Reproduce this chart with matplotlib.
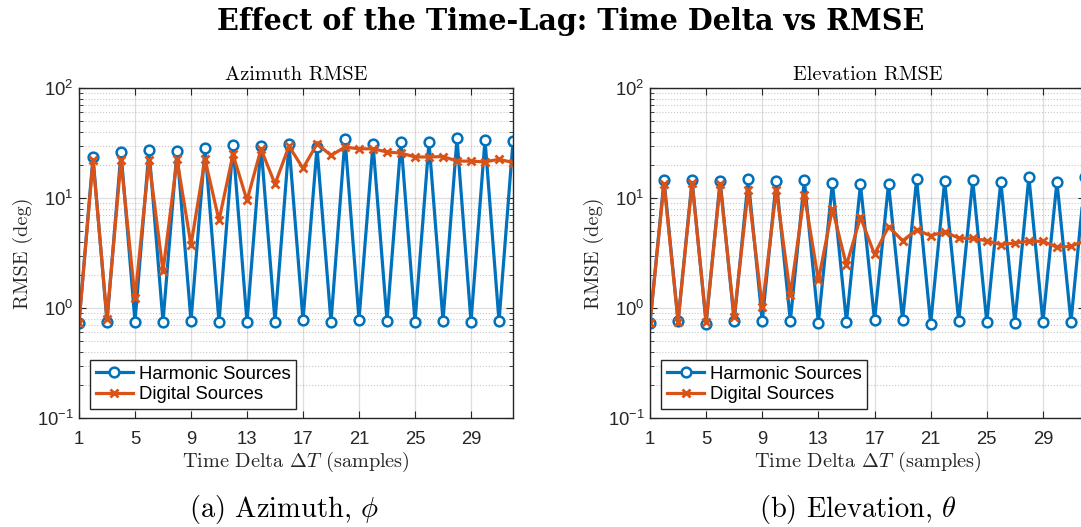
import matplotlib
matplotlib.use("Agg")
import matplotlib.pyplot as plt
from matplotlib.ticker import NullLocator, NullFormatter, LogLocator

plt.rcParams['font.family'] = ['Liberation Sans', 'DejaVu Sans']
plt.rcParams['mathtext.fontset'] = 'cm'

# time delta (samples)
delta_t = list(range(1, 33))

# azimuth RMSE (deg)
az_harmonic = [0.73, 23.5, 0.75, 26.0, 0.75, 27.5, 0.75, 27.0, 0.76, 28.4, 0.745, 30.3,
               0.745, 30.0, 0.75, 30.8, 0.775, 28.8, 0.745, 34.5, 0.785, 31.0, 0.765, 32.6,
               0.745, 32.2, 0.765, 34.9, 0.745, 33.8, 0.755, 32.8]
az_digital = [0.73, 22.0, 0.80, 22.0, 1.23, 22.0, 2.16, 22.5, 3.74, 22.5, 6.27, 24.9,
              9.5, 27.9, 13.4, 29.6, 18.6, 31.1, 24.4, 29.0, 28.0, 28.0, 26.2, 25.6,
              23.6, 23.6, 23.8, 21.7, 21.6, 21.3, 22.5, 21.0]

# elevation RMSE (deg)
el_harmonic = [0.73, 14.5, 0.76, 14.5, 0.72, 14.4, 0.76, 14.8, 0.76, 14.4, 0.76, 14.5,
               0.735, 13.8, 0.745, 13.3, 0.775, 13.4, 0.775, 14.8, 0.72, 14.3, 0.76, 14.5,
               0.745, 14.1, 0.735, 15.6, 0.745, 14.1, 0.745, 15.4]
el_digital = [0.73, 13.5, 0.75, 13.8, 0.75, 13.3, 0.83, 11.9, 1.02, 11.9, 1.32, 10.7,
              1.79, 8.0, 2.44, 6.7, 3.07, 5.5, 4.09, 5.13, 4.54, 4.93, 4.32, 4.29,
              4.09, 3.77, 3.90, 4.04, 4.04, 3.57, 3.64, 4.1]

x_ticks = [1, 5, 9, 13, 17, 21, 25, 29]
labels = ['Harmonic Sources', 'Digital Sources']

blue = '#0072BD'
orange = '#D95319'
dark = '#262626'

W, H = 1081, 527
fig = plt.figure(figsize=(W / 100, H / 100), dpi=100)
ax1 = fig.add_axes([79 / W, 109 / H, 434 / W, 330 / H])
ax2 = fig.add_axes([650 / W, 109 / H, 435 / W, 330 / H])


def draw(ax, harm, digi, title):
    ax.plot(delta_t, harm, '-o', color=blue, lw=2.3, ms=7, mew=1.8,
            mfc='white', label=labels[0])
    ax.plot(delta_t, digi, '-x', color=orange, lw=2.3, ms=5.5, mew=2.0,
            label=labels[1])
    ax.set_yscale('log')
    ax.set_ylim(0.1, 100)
    ax.set_xlim(1, 32)
    ax.set_xticks(x_ticks)
    ax.xaxis.set_minor_locator(NullLocator())
    ax.yaxis.set_minor_locator(LogLocator(base=10, subs=range(2, 10)))
    ax.yaxis.set_minor_formatter(NullFormatter())
    ax.set_axisbelow(True)
    ax.grid(True, which='major', color=dark, alpha=0.15, lw=0.9)
    ax.yaxis.grid(True, which='minor', color=dark, alpha=0.25, ls=':', lw=0.8)
    ax.tick_params(which='both', direction='in', top=True, right=True,
                   colors=dark, labelcolor='#262626')
    ax.tick_params(which='major', length=5, width=0.8, labelsize=13.3)
    ax.tick_params(which='minor', length=3, width=0.6)
    ax.tick_params(axis='x', pad=9)
    ax.tick_params(axis='y', pad=4)
    for s in ax.spines.values():
        s.set_color(dark)
        s.set_linewidth(1.0)
    ax.set_title(title, fontfamily='cmr10', fontsize=14.6, pad=6)
    ax.set_xlabel('Time Delta $\\Delta T$ (samples)', fontfamily='cmr10',
                  fontsize=14.6, labelpad=2, color='#262626')
    ax.set_ylabel('RMSE (deg)', fontfamily='cmr10', fontsize=14.6,
                  labelpad=2.5, color='#262626')
    leg = ax.legend(loc='lower left', bbox_to_anchor=(11 / 434, 9 / 330),
                    borderaxespad=0, fontsize=13.3, fancybox=False,
                    framealpha=1, edgecolor=dark, handlelength=2.05,
                    handletextpad=0.3, borderpad=0.3, labelspacing=0.2)
    leg.get_frame().set_linewidth(1.0)


draw(ax1, az_harmonic, az_digital, 'Azimuth RMSE')
draw(ax2, el_harmonic, el_digital, 'Elevation RMSE')

fig.text(571 / W, 1 - 21 / H, 'Effect of the Time-Lag: Time Delta vs RMSE',
         ha='center', va='center', fontfamily='DejaVu Serif', fontweight='bold',
         fontsize=20.6)
fig.text(284 / W, 1 - 509 / H, '(a) Azimuth, $\\phi$', ha='center', va='center',
         fontfamily='cmr10', fontsize=20.5)
fig.text(858 / W, 1 - 509 / H, '(b) Elevation, $\\theta$', ha='center', va='center',
         fontfamily='cmr10', fontsize=20.5)

fig.savefig('out.png', dpi=100)
